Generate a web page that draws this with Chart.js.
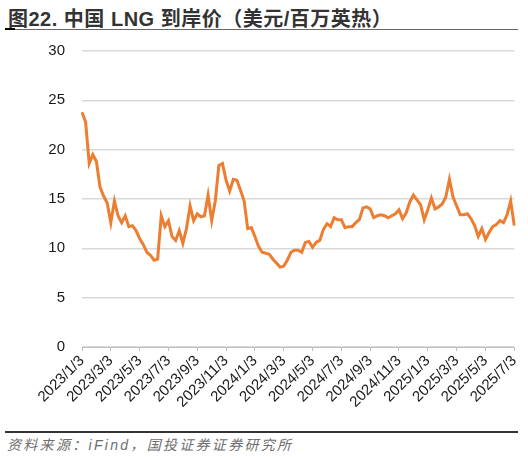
<!DOCTYPE html>
<html><head><meta charset="utf-8">
<script src="https://cdn.jsdelivr.net/npm/chart.js@4"></script>
<style>
html,body{margin:0;padding:0;background:#fff;width:528px;height:457px;overflow:hidden;position:relative}
#title{position:absolute;left:8px;top:3px;font:bold 20px "Liberation Sans","Noto Sans CJK SC",sans-serif;color:#333;white-space:nowrap;letter-spacing:0.5px}
#tline{position:absolute;left:5px;top:29px;width:513px;height:1px;background:#666}
#tmark{position:absolute;left:5px;top:28px;width:10px;height:2px;background:#000}
#sline{position:absolute;left:5px;top:431px;width:513px;height:2px;background:#333}
#src{position:absolute;left:7px;top:434px;font:italic 14px "Liberation Sans","Noto Sans CJK SC",sans-serif;color:#6e6e6e;letter-spacing:2.3px;white-space:nowrap}
#wrap{position:absolute;left:0;top:25px;width:528px;height:395px}
</style></head>
<body>
<div id="title">图22. 中国 LNG 到岸价（美元/百万英热）</div>
<div id="tline"></div><div id="tmark"></div>
<div id="wrap"><canvas id="c"></canvas></div>
<div id="sline"></div>
<div id="src">资料来源：iFind，国投证券证券研究所</div>
<script>
// category dates: 4 samples per month, 2023/1/3 .. 2025/7/3
const years = [2023, 2024, 2025];
const sampleDays = [3, 10, 17, 24];
const categories = [];
for (const y of years) {
  for (let m = 1; m <= 12; m++) {
    if (y === 2025 && m > 7) break;
    for (const d of sampleDays) {
      if (y === 2025 && m === 7 && d > 3) break;
      categories.push(y + '/' + m + '/' + d);
    }
  }
}
// tick labels shown on the x axis
const tickLabels = ['2023/1/3','2023/3/3','2023/5/3','2023/7/3','2023/9/3','2023/11/3','2024/1/3','2024/3/3','2024/5/3','2024/7/3','2024/9/3','2024/11/3','2025/1/3','2025/3/3','2025/5/3','2025/7/3'];
// China LNG landed price, USD/MMBtu
const lngPrice = [
 23.8,22.8,18.6,19.5,18.8,16.2,15.3,14.6,12.6,14.8,
 13.3,12.6,13.3,12.2,12.3,11.8,11.0,10.4,9.6,9.3,
 8.8,8.9,13.3,12.2,12.8,11.2,10.8,11.8,10.5,12.0,
 14.3,12.8,13.5,13.2,13.3,15.4,12.8,14.8,18.4,18.6,
 16.9,15.8,17.0,16.9,15.9,14.8,12.0,12.1,11.2,10.2,
 9.6,9.5,9.4,8.9,8.5,8.1,8.2,8.8,9.6,9.8,
 9.8,9.6,10.6,10.7,10.1,10.6,10.8,11.9,12.5,12.2,
 13.1,12.9,12.9,12.1,12.2,12.2,12.6,12.9,14.1,14.2,
 14.0,13.1,13.3,13.4,13.3,13.1,13.3,13.5,13.9,13.0,
 13.6,14.7,15.4,14.9,14.4,12.9,13.9,15.1,14.0,14.2,
 14.5,15.2,17.0,15.2,14.3,13.4,13.4,13.5,13.0,12.3,
 11.2,12.0,10.9,11.6,12.2,12.4,12.8,12.6,13.4,14.8,
 12.3
];
const yTicks = [0, 5, 10, 15, 20, 25, 30];

const FONT = '"Liberation Sans", Arial, sans-serif';
new Chart(document.getElementById('c'), {
  type: 'line',
  data: {
    labels: categories,
    datasets: [{
      data: lngPrice,
      borderColor: '#ED7D31',
      borderWidth: 3,
      pointRadius: 0,
      tension: 0,
      fill: false
    }]
  },
  options: {
    responsive: true,
    maintainAspectRatio: false,
    animation: false,
    layout: { padding: { top: 11, right: 7, left: 0, bottom: 0 } },
    plugins: { legend: { display: false }, tooltip: { enabled: false } },
    scales: {
      x: {
        type: 'category',
        afterBuildTicks: s => { s.ticks = s.ticks.filter(t => tickLabels.includes(categories[t.value])); },
        afterFit: s => { s.height = 73; },
        grid: { drawOnChartArea: false, drawTicks: true, tickLength: 4, color: '#bfbfbf' },
        border: { color: '#bfbfbf', width: 1 },
        ticks: {
          autoSkip: false, maxRotation: 45, minRotation: 45, padding: 1,
          color: '#1a1a1a', font: { family: FONT, size: 15 },
          callback: function (v) { return categories[v]; }
        }
      },
      y: {
        min: 0, max: 30,
        afterBuildTicks: s => { s.ticks = yTicks.map(v => ({ value: v })); },
        afterFit: s => { s.width = 82; },
        grid: { color: '#d9d9d9', lineWidth: 1.5, drawTicks: false },
        border: { display: false },
        ticks: { padding: 17, color: '#1a1a1a', font: { family: FONT, size: 15 } }
      }
    }
  }
});
</script>
</body></html>
